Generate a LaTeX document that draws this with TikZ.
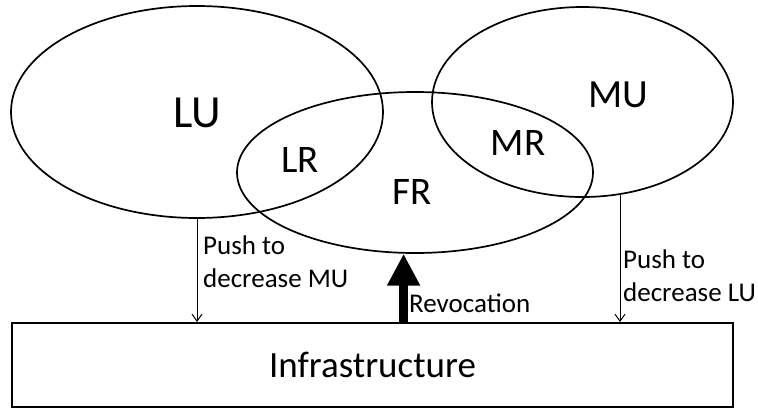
\documentclass[tikz,border=0pt]{standalone}
\usepackage{fontspec}
\setmainfont{Carlito}
\usetikzlibrary{arrows.meta,shapes.geometric,positioning}

\tikzset{
  zone/.style={draw,ellipse,line width=1.7pt,inner sep=0pt},
  zonename/.style={inner sep=0pt,font=\fontsize{39}{39}\selectfont},
  tag/.style={inner sep=0pt,align=left,font=\fontsize{27}{33}\selectfont},
  push/.style={-{Straight Barb[length=7pt,width=10pt]},line width=1pt},
  revoke/.style={-{Triangle[length=32pt,width=31pt]},line width=9pt},
}

\begin{document}
\begin{tikzpicture}[x=1pt,y=-1pt]
  \useasboundingbox (0,0) rectangle (758,408);

  % the three user groups
  \node[zone,minimum width=372pt,minimum height=212pt] (lu) at (197,112) {};
  \node[zone,minimum width=356pt,minimum height=161pt] (fr) at (415,172.5) {};
  \node[zone,minimum width=301pt,minimum height=190pt] (mu) at (582.5,102) {};

  \node[zonename,font=\fontsize{46}{46}\selectfont] (lutext) at (197,113) {LU};
  \node[zonename] (lrtext) at (300,160) {LR};
  \node[zonename] (frtext) at (412,192) {FR};
  \node[zonename] (mrtext) at (518,143) {MR};
  \node[zonename,font=\fontsize{40}{40}\selectfont] (mutext) at (618,95) {MU};

  % infrastructure box
  \node[draw,line width=2pt,inner sep=0pt,minimum width=721pt,minimum height=84pt,
        font=\fontsize{37}{37}\selectfont] (infra) at (372.5,365) {Infrastructure};

  % pushes and revocation
  \draw[push] (lu.south) -- (lu.south |- infra.north);
  \draw[push] (mu.-68) -- (mu.-68 |- infra.north);
  \draw[revoke] (fr.-98.5 |- infra.north) -- (fr.-98.5);

  \node[tag,anchor=north west] (pushmu) at (203,236) {Push to\\decrease MU};
  \node[tag,anchor=north west] (pushlu) at (623,250) {Push to\\decrease LU};
  \node[tag,anchor=base west] (revtext) at (409,312) {Revocation};
\end{tikzpicture}
\end{document}
